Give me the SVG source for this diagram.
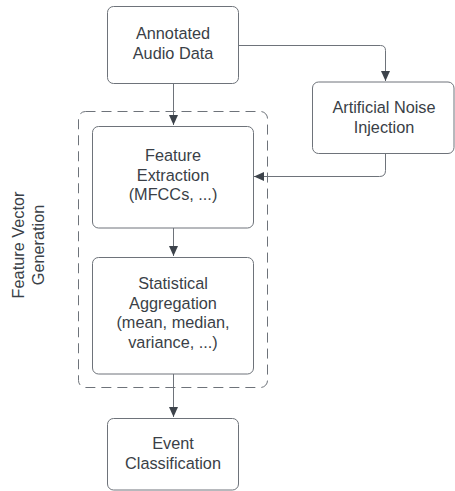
<svg xmlns="http://www.w3.org/2000/svg" width="455" height="491" viewBox="0 0 455 491">
  <style>
    .box { fill: #ffffff; stroke: #6e737a; stroke-width: 1; }
    .group { fill: none; stroke: #6e737a; stroke-width: 1; stroke-dasharray: 10 6; }
    .lbl { font-family: "Liberation Sans", Arial, sans-serif; font-size: 16.3px; fill: #3a3f47; text-anchor: middle; }
    .wire { fill: none; stroke: #6e737a; stroke-width: 1; }
  </style>
  <defs>
    <marker id="arrow" viewBox="0 0 10 10" refX="10" refY="5" markerWidth="10" markerHeight="10" markerUnits="userSpaceOnUse" orient="auto">
      <path d="M0,0.5 L10,5 L0,9.5 Z" fill="#3d434b"/>
    </marker>
  </defs>

  <rect width="455" height="491" fill="#ffffff"/>

  <!-- container: feature vector generation -->
  <g id="feature-vector-generation">
    <rect class="group" x="78.5" y="111.5" width="189" height="276" rx="7"/>
    <text class="lbl" transform="translate(31,245) rotate(-90)"><tspan x="0" y="-7">Feature Vector</tspan><tspan x="0" y="12.5">Generation</tspan></text>
  </g>

  <g id="connectors">
    <path class="wire" d="M173.5,83 V125" marker-end="url(#arrow)"/>
    <path class="wire" d="M239,45.5 H380.5 Q385.5,45.5 385.5,50.5 V81" marker-end="url(#arrow)"/>
    <path class="wire" d="M385.5,153 V170.5 Q385.5,176.5 379.5,176.5 H254" marker-end="url(#arrow)"/>
    <path class="wire" d="M173.5,228 V256" marker-end="url(#arrow)"/>
    <path class="wire" d="M173.5,374 V417" marker-end="url(#arrow)"/>
  </g>

  <g id="annotated-audio-data">
    <rect class="box" x="107.5" y="6.5" width="131" height="77" rx="6"/>
    <text class="lbl"><tspan x="173" y="39">Annotated</tspan><tspan x="173" y="58.5">Audio Data</tspan></text>
  </g>

  <g id="artificial-noise-injection">
    <rect class="box" x="312.5" y="82" width="141.5" height="71.5" rx="6"/>
    <text class="lbl"><tspan x="384" y="113">Artificial Noise</tspan><tspan x="384" y="133">Injection</tspan></text>
  </g>

  <g id="feature-extraction">
    <rect class="box" x="92.5" y="126.5" width="161" height="101.5" rx="6"/>
    <text class="lbl"><tspan x="173" y="161">Feature</tspan><tspan x="173" y="180.5">Extraction</tspan><tspan x="173" y="200">(MFCCs, ...)</tspan></text>
  </g>

  <g id="statistical-aggregation">
    <rect class="box" x="92.5" y="257.5" width="161" height="116.5" rx="6"/>
    <text class="lbl"><tspan x="173" y="289">Statistical</tspan><tspan x="173" y="308.5">Aggregation</tspan><tspan x="173" y="328">(mean, median,</tspan><tspan x="173" y="347.5">variance, ...)</tspan></text>
  </g>

  <g id="event-classification">
    <rect class="box" x="107.5" y="418.5" width="131" height="71.5" rx="6"/>
    <text class="lbl"><tspan x="173" y="449">Event</tspan><tspan x="173" y="468.5">Classification</tspan></text>
  </g>
</svg>
